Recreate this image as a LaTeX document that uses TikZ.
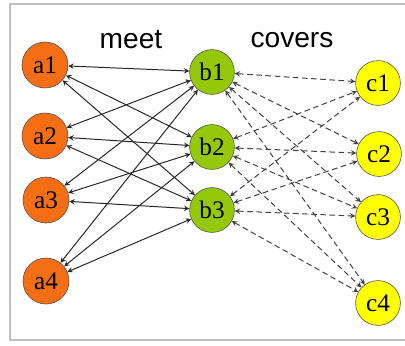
\documentclass[tikz,border=0pt]{standalone}
\usepackage{fontspec}
\setmainfont{Liberation Serif}
\setsansfont{Liberation Sans}
\usetikzlibrary{arrows}
\definecolor{aorange}{RGB}{245,110,20}
\definecolor{bgreen}{RGB}{150,200,10}
\definecolor{cyellow}{RGB}{255,255,0}
\tikzstyle{anode} = [
    circle,
    minimum size=1.15cm,
    inner sep=0pt,
    fill=aorange,
    draw=black!70,
    font=\fontsize{18}{18}\selectfont
]
\tikzstyle{bnode} = [
    circle,
    minimum size=1.12cm,
    inner sep=0pt,
    fill=bgreen,
    draw=black!70,
    font=\fontsize{18}{18}\selectfont
]
\tikzstyle{cnode} = [
    circle,
    minimum size=1.12cm,
    inner sep=0pt,
    fill=cyellow,
    draw=black!70,
    font=\fontsize{18}{18}\selectfont
]
\tikzstyle{meetarrow} = [<->,>=stealth,line width=0.7pt,black!85]
\tikzstyle{coverarrow} = [<->,>=stealth,line width=0.7pt,
    dash pattern=on 4pt off 2.5pt,black!75]
\tikzstyle{heading} = [font=\sffamily\fontsize{20}{20}\selectfont]

\begin{document}
\begin{tikzpicture}[x=0.025cm, y=-0.025cm]

\useasboundingbox (0,0) rectangle (405,345);
\draw [black!25, line width=1pt] (405,4) -- (10,4) -- (10,340) -- (405,340);

\node (meet) [heading] at (131,40) {meet};
\node (covers) [heading] at (292,40) {covers};

\node (a1) [anode] at (45,65) {a1};
\node (a2) [anode] at (45,136) {a2};
\node (a3) [anode] at (46,200) {a3};
\node (a4) [anode] at (46,281) {a4};

\node (b1) [bnode] at (212,72) {b1};
\node (b2) [bnode] at (212,147) {b2};
\node (b3) [bnode] at (212,210) {b3};

\node (c1) [cnode] at (378,83) {c1};
\node (c2) [cnode] at (379,154) {c2};
\node (c3) [cnode] at (378,217) {c3};
\node (c4) [cnode] at (378,303) {c4};

\draw [meetarrow] (a1) -- (b1);
\draw [meetarrow] (a1) -- (b2);
\draw [meetarrow] (a1) -- (b3);
\draw [meetarrow] (a2) -- (b1);
\draw [meetarrow] (a2) -- (b2);
\draw [meetarrow] (a2) -- (b3);
\draw [meetarrow] (a3) -- (b1);
\draw [meetarrow] (a3) -- (b2);
\draw [meetarrow] (a3) -- (b3);
\draw [meetarrow] (a4) -- (b1);
\draw [meetarrow] (a4) -- (b2);
\draw [meetarrow] (a4) -- (b3);

\draw [coverarrow] (b1) -- (c1);
\draw [coverarrow] (b1) -- (c2);
\draw [coverarrow] (b1) -- (c3);
\draw [coverarrow] (b1) -- (c4);
\draw [coverarrow] (b2) -- (c1);
\draw [coverarrow] (b2) -- (c2);
\draw [coverarrow] (b2) -- (c3);
\draw [coverarrow] (b2) -- (c4);
\draw [coverarrow] (b3) -- (c1);
\draw [coverarrow] (b3) -- (c2);
\draw [coverarrow] (b3) -- (c3);
\draw [coverarrow] (b3) -- (c4);

\end{tikzpicture}
\end{document}
